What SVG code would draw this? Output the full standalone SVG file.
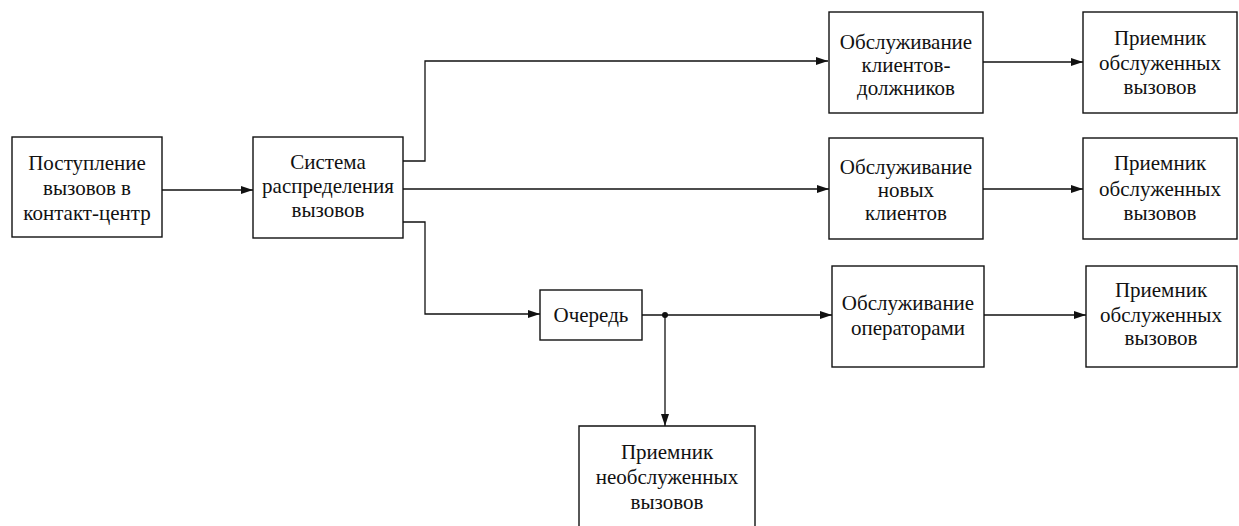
<svg xmlns="http://www.w3.org/2000/svg" width="1239" height="526" viewBox="0 0 1239 526">
<defs>
<marker id="arr" viewBox="0 0 12 8" refX="12" refY="4" markerWidth="12" markerHeight="8" markerUnits="userSpaceOnUse" orient="auto">
<path d="M0,0 L12,4 L0,8 Z" fill="#111"/>
</marker>
<style>
.box{fill:#fff;stroke:#111;stroke-width:1.4}
.t{font-family:"Liberation Serif","Times New Roman",serif;font-size:21px;fill:#111;text-anchor:middle}
.c{fill:none;stroke:#111;stroke-width:1.3}
</style>
</defs>
<rect width="1239" height="526" fill="#fff"/>
<g id="connectors">
<path class="c" d="M162,190 H253" marker-end="url(#arr)"/>
<path class="c" d="M403,161 H425 V61 H828" marker-end="url(#arr)"/>
<path class="c" d="M403,189 H829" marker-end="url(#arr)"/>
<path class="c" d="M403,222 H425 V314 H540" marker-end="url(#arr)"/>
<path class="c" d="M642,315 H832" marker-end="url(#arr)"/>
<path class="c" d="M665,315 V426" marker-end="url(#arr)"/>
<circle cx="665" cy="315" r="3" fill="#111"/>
<path class="c" d="M983,62 H1083" marker-end="url(#arr)"/>
<path class="c" d="M983,189 H1083" marker-end="url(#arr)"/>
<path class="c" d="M984,315 H1086" marker-end="url(#arr)"/>
</g>
<g id="n1">
<rect class="box" x="12" y="137" width="150" height="100"/>
<text class="t" x="87" y="170">Поступление</text>
<text class="t" x="87" y="195">вызовов в</text>
<text class="t" x="87" y="220">контакт-центр</text>
</g>
<g id="n2">
<rect class="box" x="253" y="137" width="150" height="101"/>
<text class="t" x="328" y="169">Система</text>
<text class="t" x="328" y="193">распределения</text>
<text class="t" x="328" y="217">вызовов</text>
</g>
<g id="n3">
<rect class="box" x="829" y="12" width="154" height="101"/>
<text class="t" x="906" y="49">Обслуживание</text>
<text class="t" x="906" y="72">клиентов-</text>
<text class="t" x="906" y="95">должников</text>
</g>
<g id="n4">
<rect class="box" x="829" y="138" width="154" height="101"/>
<text class="t" x="906" y="174">Обслуживание</text>
<text class="t" x="906" y="197">новых</text>
<text class="t" x="906" y="220">клиентов</text>
</g>
<g id="n5">
<rect class="box" x="832" y="266" width="152" height="101"/>
<text class="t" x="908" y="310">Обслуживание</text>
<text class="t" x="908" y="335">операторами</text>
</g>
<g id="n6">
<rect class="box" x="1083" y="12" width="154" height="101"/>
<text class="t" x="1160" y="45">Приемник</text>
<text class="t" x="1160" y="70">обслуженных</text>
<text class="t" x="1160" y="94">вызовов</text>
</g>
<g id="n7">
<rect class="box" x="1083" y="138" width="154" height="101"/>
<text class="t" x="1160" y="170">Приемник</text>
<text class="t" x="1160" y="196">обслуженных</text>
<text class="t" x="1160" y="220">вызовов</text>
</g>
<g id="n8">
<rect class="box" x="1086" y="266" width="151" height="101"/>
<text class="t" x="1161" y="297">Приемник</text>
<text class="t" x="1161" y="322">обслуженных</text>
<text class="t" x="1161" y="345">вызовов</text>
</g>
<g id="n9">
<rect class="box" x="540" y="290" width="102" height="50"/>
<text class="t" x="591" y="322">Очередь</text>
</g>
<g id="n10">
<path class="box" d="M579,527 V426 H755 V527"/>
<text class="t" x="667" y="459">Приемник</text>
<text class="t" x="667" y="484">необслуженных</text>
<text class="t" x="667" y="509">вызовов</text>
</g>
</svg>
